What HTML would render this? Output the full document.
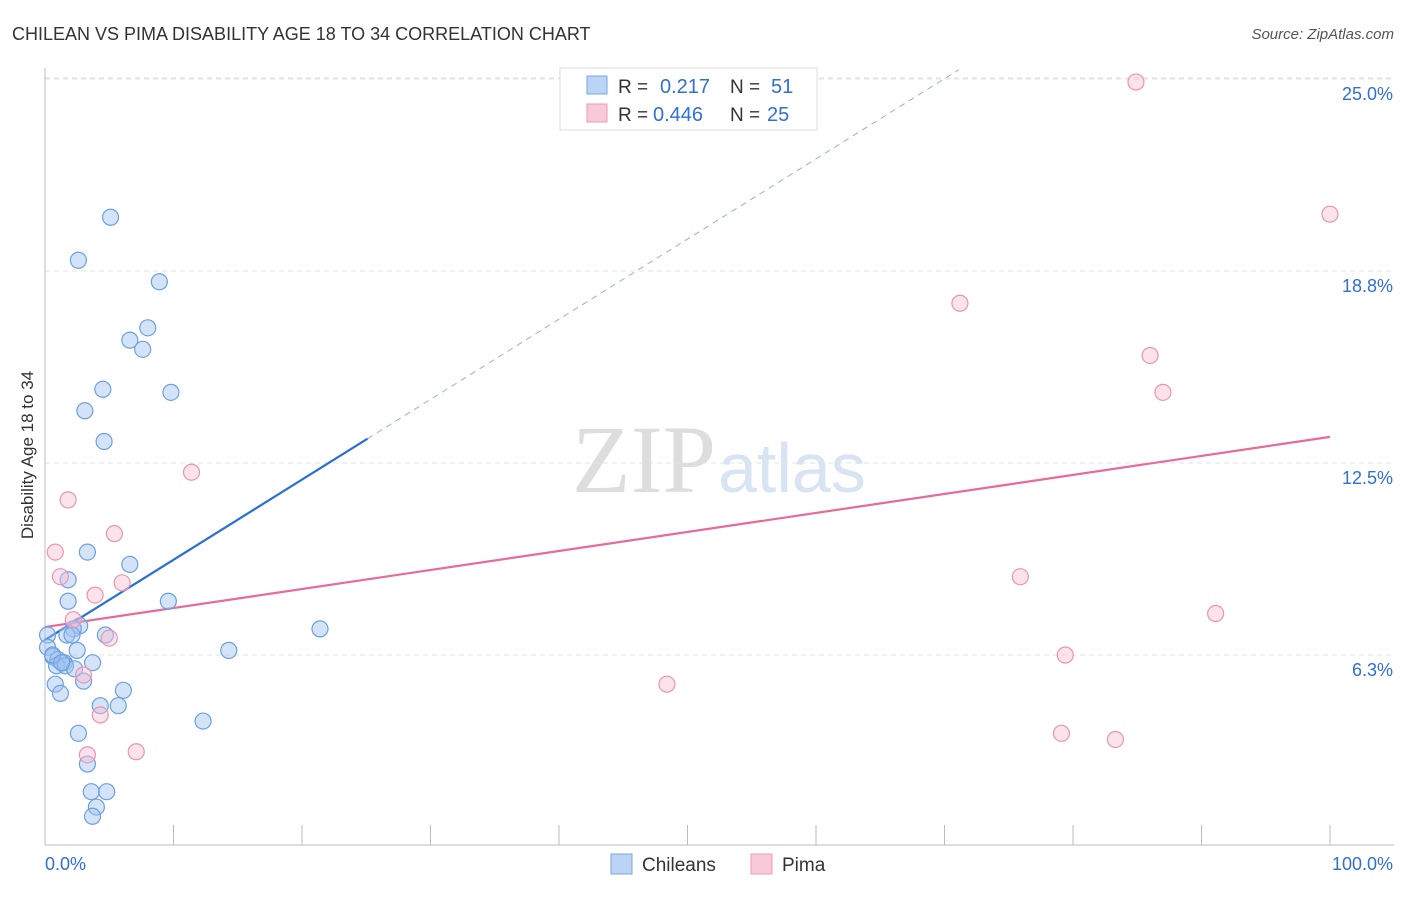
<!DOCTYPE html>
<html><head><meta charset="utf-8"><style>
body{margin:0;background:#fff;font-family:"Liberation Sans",sans-serif}
svg text{font-family:"Liberation Sans",sans-serif}
</style></head><body>
<svg id="c" width="1406" height="892">
<text x="12" y="40" font-size="18" fill="#333">CHILEAN VS PIMA DISABILITY AGE 18 TO 34 CORRELATION CHART</text>
<text x="1394" y="39" font-size="15" fill="#555" font-style="italic" text-anchor="end">Source: ZipAtlas.com</text>
<text x="0" y="0" transform="translate(33,455) rotate(-90)" font-size="17" fill="#333" text-anchor="middle">Disability Age 18 to 34</text>
<text x="716" y="492" font-size="96" fill="#ddd" text-anchor="end" style="font-family:'Liberation Serif',serif">ZIP</text>
<text x="718" y="492" font-size="70" fill="#d8e4f4">atlas</text>
<g id="grid"></g><g id="axes"></g><g id="trend"></g><g id="pts"></g>
<g>
<rect x="560" y="68" width="257" height="62" fill="#fff" stroke="#ddd"/>
<rect x="587" y="76" width="20" height="18" fill="#b9d4f5" stroke="#7aa6e0"/>
<rect x="587" y="104" width="20" height="18" fill="#fac9d8" stroke="#ec9ab4"/>
<text x="618" y="93" font-size="19" fill="#333">R = </text><text x="660" y="93" font-size="20" fill="#2f6fd6">0.217</text>
<text x="730" y="93" font-size="19" fill="#333">N = </text><text x="771" y="93" font-size="20" fill="#2f6fd6">51</text>
<text x="618" y="121" font-size="19" fill="#333">R = </text><text x="653" y="121" font-size="20" fill="#2f6fd6">0.446</text>
<text x="730" y="121" font-size="19" fill="#333">N = </text><text x="767" y="121" font-size="20" fill="#2f6fd6">25</text>
</g>
<g>
<rect x="611" y="854" width="21" height="20" fill="#b9d4f5" stroke="#7aa6e0"/><text x="642" y="871" font-size="19" fill="#333">Chileans</text>
<rect x="751" y="854" width="21" height="20" fill="#fac9d8" stroke="#ec9ab4"/><text x="782" y="871" font-size="19" fill="#333">Pima</text>
</g>
</svg>
<script>
const yTicks=[6.25,12.5,18.75,25];
const yTickLabels=["6.3%","12.5%","18.8%","25.0%"];
const xTickLabels=["0.0%","100.0%"];
const blueX=[5.1,2.6,8.9,8.0,6.6,7.6,4.5,9.8,3.1,4.6,3.3,6.6,1.8,1.8,9.6,2.7,2.2,1.7,4.7,2.1,0.2,0.2,2.5,14.3,21.4,0.6,1.0,1.5,3.7,0.9,1.6,2.3,3.0,0.8,6.1,1.2,4.3,5.7,2.6,12.3,3.3,3.6,4.8,4.0,3.7,0.6,1.3];
const blueY=[20.5,19.1,18.4,16.9,16.5,16.2,14.9,14.8,14.2,13.2,9.6,9.2,8.7,8.0,8.0,7.2,7.1,6.9,6.9,6.9,6.9,6.5,6.4,6.4,7.1,6.2,6.1,6.0,6.0,5.9,5.9,5.8,5.4,5.3,5.1,5.0,4.6,4.6,3.7,4.1,2.7,1.8,1.8,1.3,1.0,6.25,6.0];
const pinkX=[84.9,100,71.2,86.0,87.0,11.4,1.8,5.4,0.8,1.2,6.0,3.9,2.2,5.0,75.9,91.1,79.4,48.4,3.0,4.3,79.1,83.3,7.1,3.3];
const pinkY=[24.9,20.6,17.7,16.0,14.8,12.2,11.3,10.2,9.6,8.8,8.6,8.2,7.4,6.8,8.8,7.6,6.25,5.3,5.6,4.3,3.7,3.5,3.1,3.0];
const blueTrend=[6.74,0.261]; const blueSolidEnd=25.1;
const pinkTrend=[7.16,0.0619];
const X=v=>45+v*12.85, Y=v=>847-v*30.72;
const NS="http://www.w3.org/2000/svg";
function mk(p,t,a){const e=document.createElementNS(NS,t);for(const k in a)e.setAttribute(k,a[k]);document.getElementById(p).appendChild(e);return e;}
yTicks.forEach((t,i)=>{
 const l=mk('grid','line',{x1:45,x2:1394,y1:Y(t),y2:Y(t),stroke:'#e3e3e3','stroke-dasharray':'5,4'});
 
 
 const tx=mk('grid','text',{x:1393,y:Y(t)+21,'font-size':18,fill:'#2f6fd6','text-anchor':'end'});tx.textContent=yTickLabels[i];
 
 
});
const topGrid=mk('grid','line',{x1:45,x2:1394,y1:78,y2:78,stroke:'#e3e3e3','stroke-dasharray':'5,4'});


const ax=mk('axes','line',{x1:45,x2:45,y1:68,y2:845,stroke:'#bbb'});


const bx=mk('axes','line',{x1:45,x2:1394,y1:845,y2:845,stroke:'#bbb'});


for(let i=0;i<=10;i++){const t=mk('axes','line',{x1:X(i*10),x2:X(i*10),y1:825,y2:845,stroke:'#bbb'});
 
 }
const xl0=mk('axes','text',{x:45,y:870,'font-size':18,fill:'#2f6fd6'});xl0.textContent=xTickLabels[0];


const xl1=mk('axes','text',{x:1393,y:870,'font-size':18,fill:'#2f6fd6','text-anchor':'end'});xl1.textContent=xTickLabels[1];


const bEndDash=(25.3-blueTrend[0])/blueTrend[1];
const b1=mk('trend','line',{x1:X(0),y1:Y(blueTrend[0]),x2:X(blueSolidEnd),y2:Y(blueTrend[0]+blueTrend[1]*blueSolidEnd),stroke:'#2a6fd6','stroke-width':2.2});


const b2=mk('trend','line',{x1:X(blueSolidEnd),y1:Y(blueTrend[0]+blueTrend[1]*blueSolidEnd),x2:X(bEndDash),y2:Y(25.3),stroke:'#8fb2e6','stroke-width':1,'stroke-dasharray':'6,5'});


const p1=mk('trend','line',{x1:X(0),y1:Y(pinkTrend[0]),x2:X(100),y2:Y(pinkTrend[0]+pinkTrend[1]*100),stroke:'#e8699a','stroke-width':2.2});


blueX.forEach((x,i)=>{const c=mk('pts','circle',{cx:X(x),cy:Y(blueY[i]),r:8,fill:'rgba(160,196,240,0.45)',stroke:'#6d9fdf','stroke-width':1.2});
 
 });
pinkX.forEach((x,i)=>{const c=mk('pts','circle',{cx:X(x),cy:Y(pinkY[i]),r:8,fill:'rgba(248,190,208,0.45)',stroke:'#e995b2','stroke-width':1.2});
 
 });
</script>
</body></html>
